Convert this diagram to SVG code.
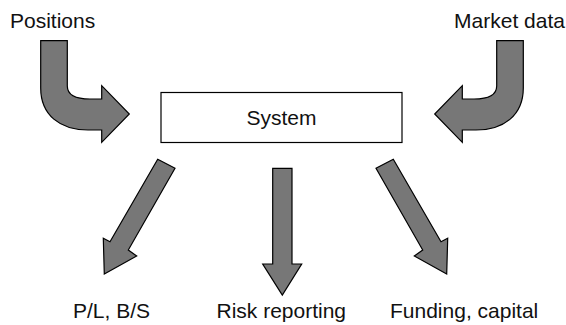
<svg xmlns="http://www.w3.org/2000/svg" width="566" height="325" viewBox="0 0 566 325">
<style>
.lbl{font-family:"Liberation Sans",Arial,sans-serif;font-size:21px;fill:#111}
.arr{fill:#777;stroke:#000;stroke-width:1.2;stroke-linejoin:miter}
</style>
<defs>
<path id="curved" d="M40.7,40.7 H67.3 V86 C67.3,95 75,99 90,99 H101.7 V85.7 L129.3,114 L101.7,142.3 V130 H88 C60,130 40.7,115 40.7,88 Z"/>
<path id="diag" d="M157.7,159.3 L175,168.3 L128.3,250 L136.7,256 L104.3,274 L103.3,238.3 L110,241.7 Z"/>
</defs>
<g id="positions"><text class="lbl" x="10" y="28">Positions</text></g>
<g id="market-data"><text class="lbl" x="565" y="28" text-anchor="end">Market data</text></g>
<g id="system">
<rect x="161" y="92.5" width="241" height="50" fill="#fff" stroke="#000" stroke-width="1.2"/>
<text class="lbl" x="281.5" y="125" text-anchor="middle">System</text>
</g>
<g id="pl-bs"><text class="lbl" x="73" y="317.5">P/L, B/S</text></g>
<g id="risk-reporting"><text class="lbl" x="216.5" y="317.5">Risk reporting</text></g>
<g id="funding-capital"><text class="lbl" x="390" y="317.5">Funding, capital</text></g>
<g id="connectors">
<use href="#curved" class="arr"/>
<use href="#curved" class="arr" transform="translate(564,0) scale(-1,1)"/>
<use href="#diag" class="arr"/>
<use href="#diag" class="arr" transform="translate(551,0) scale(-1,1)"/>
<path class="arr" d="M272.7,168.3 H292 V264 H301.7 L282.3,295 L262.7,264 H272.7 Z"/>
</g>
</svg>
